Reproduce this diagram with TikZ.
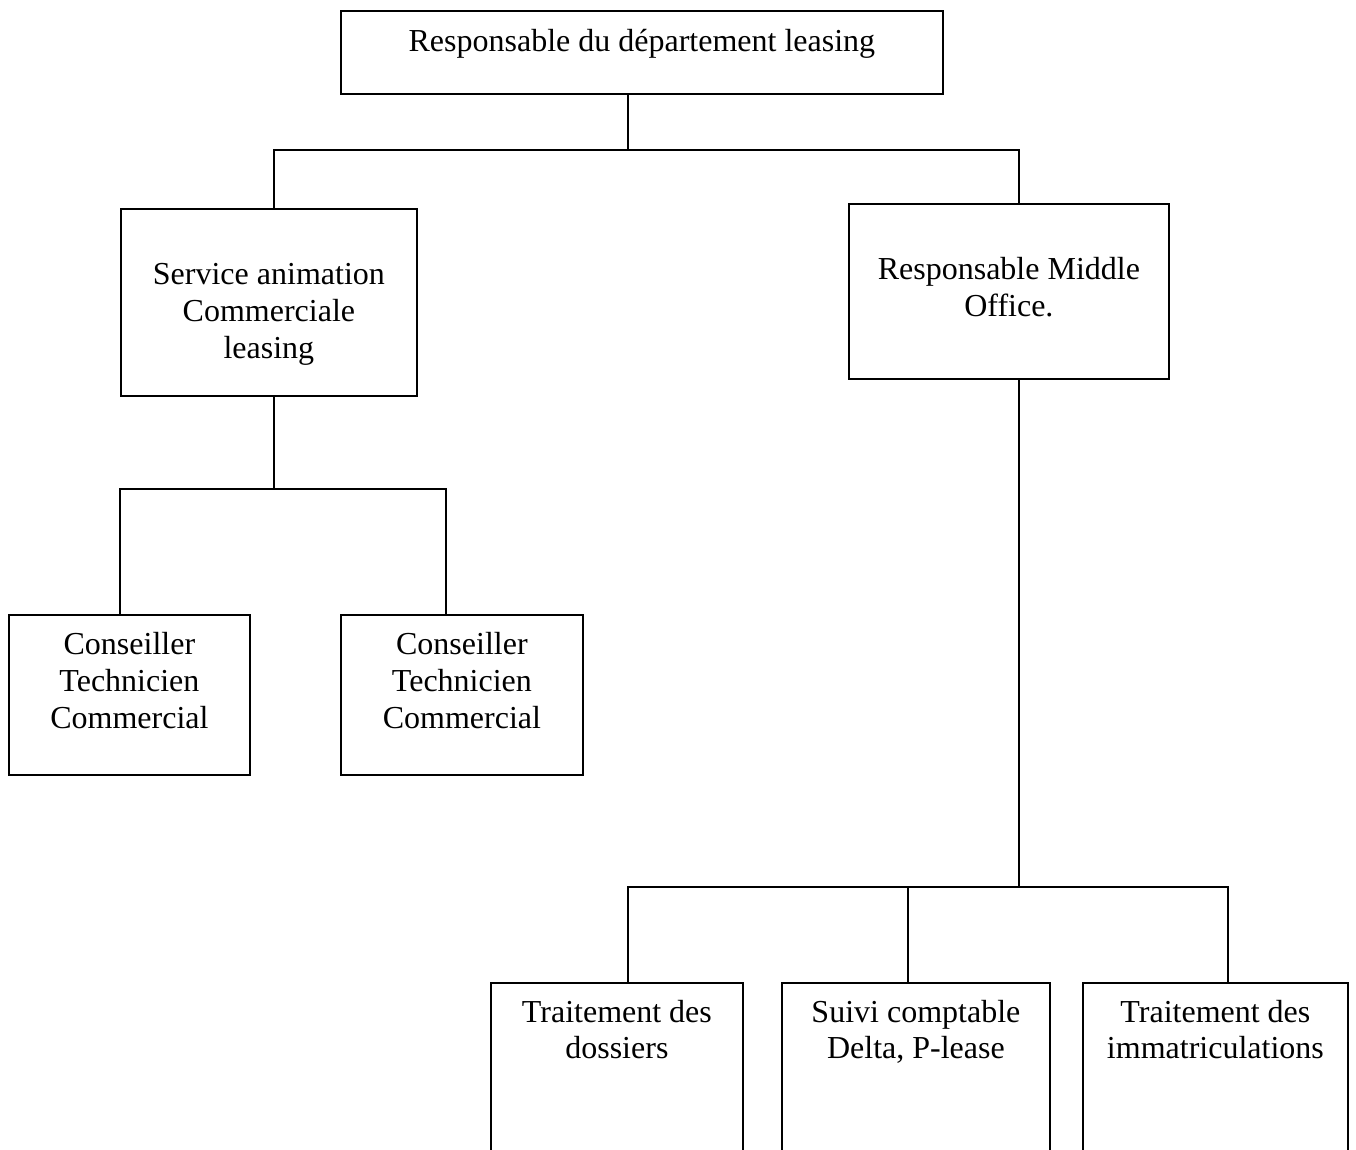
\documentclass[tikz,border=0pt]{standalone}
\usepackage{fontspec}
\setmainfont{Liberation Serif}
\begin{document}
\begin{tikzpicture}[x=1pt,y=-1pt,
  box/.style={draw, line width=1.8pt, inner sep=0pt, anchor=north west},
  lbl/.style={align=center, anchor=north, inner sep=0pt,
    font=\fontsize{32}{36.8}\selectfont, execute at begin node=\strut},
  link/.style={line width=1.8pt}]
\useasboundingbox (0,0) rectangle (1356,1149);
\clip (0,0) rectangle (1356,1149);

% boxes (top-left corner, size)
\node[box, minimum width=602pt, minimum height=83pt]  (top)  at (340,10)  {};
\node[box, minimum width=296pt, minimum height=187pt] (sacl) at (120,208) {};
\node[box, minimum width=320pt, minimum height=175pt] (rmo)  at (848,203) {};
\node[box, minimum width=241pt, minimum height=160pt] (ctc1) at (8,614)   {};
\node[box, minimum width=242pt, minimum height=160pt] (ctc2) at (340,614) {};
\node[box, minimum width=252pt, minimum height=200pt] (td)   at (490,982) {};
\node[box, minimum width=268pt, minimum height=200pt] (sc)   at (781,982) {};
\node[box, minimum width=265pt, minimum height=200pt] (ti)   at (1082,982) {};

% labels
\node[lbl] (topT)  at (top.north  |- 0,25.2)  {Responsable du département leasing};
\node[lbl] (saclT) at (sacl.north |- 0,263.2) {Service animation\\Commerciale\\leasing};
\node[lbl] (rmoT)  at (rmo.north  |- 0,257.2) {Responsable Middle\\Office.};
\node[lbl] (ctc1T) at (ctc1.north |- 0,632.2) {Conseiller\\Technicien\\Commercial};
\node[lbl] (ctc2T) at (ctc2.north |- 0,632.2) {Conseiller\\Technicien\\Commercial};
\node[lbl] (tdT)   at (td.north   |- 0,999.7) {Traitement des\\dossiers};
\node[lbl] (scT)   at (sc.north   |- 0,999.7) {Suivi comptable\\Delta, P-lease};
\node[lbl] (tiT)   at (ti.north   |- 0,999.7) {Traitement des\\immatriculations};

% junction points of the connectors
\coordinate (j1) at (628,150);
\coordinate (hL) at (274,150);
\coordinate (hR) at (1019,150);
\coordinate (j2) at (274,489);
\coordinate (c1) at (120,489);
\coordinate (c2) at (446,489);
\coordinate (j3) at (1019,887);
\coordinate (b1) at (628,887);
\coordinate (b2) at (908,887);
\coordinate (b3) at (1228,887);

% connectors
\draw[link] (j1 |- top.south) -- (j1);
\draw[link] (hL |- sacl.north) -- (hL) -- (hR) -- (hR |- rmo.north);
\draw[link] (j2 |- sacl.south) -- (j2);
\draw[link] (c1 |- ctc1.north) -- (c1) -- (c2) -- (c2 |- ctc2.north);
\draw[link] (j3 |- rmo.south) -- (j3);
\draw[link] (b1 |- td.north) -- (b1) -- (b3) -- (b3 |- ti.north);
\draw[link] (b2) -- (b2 |- sc.north);
\end{tikzpicture}
\end{document}
